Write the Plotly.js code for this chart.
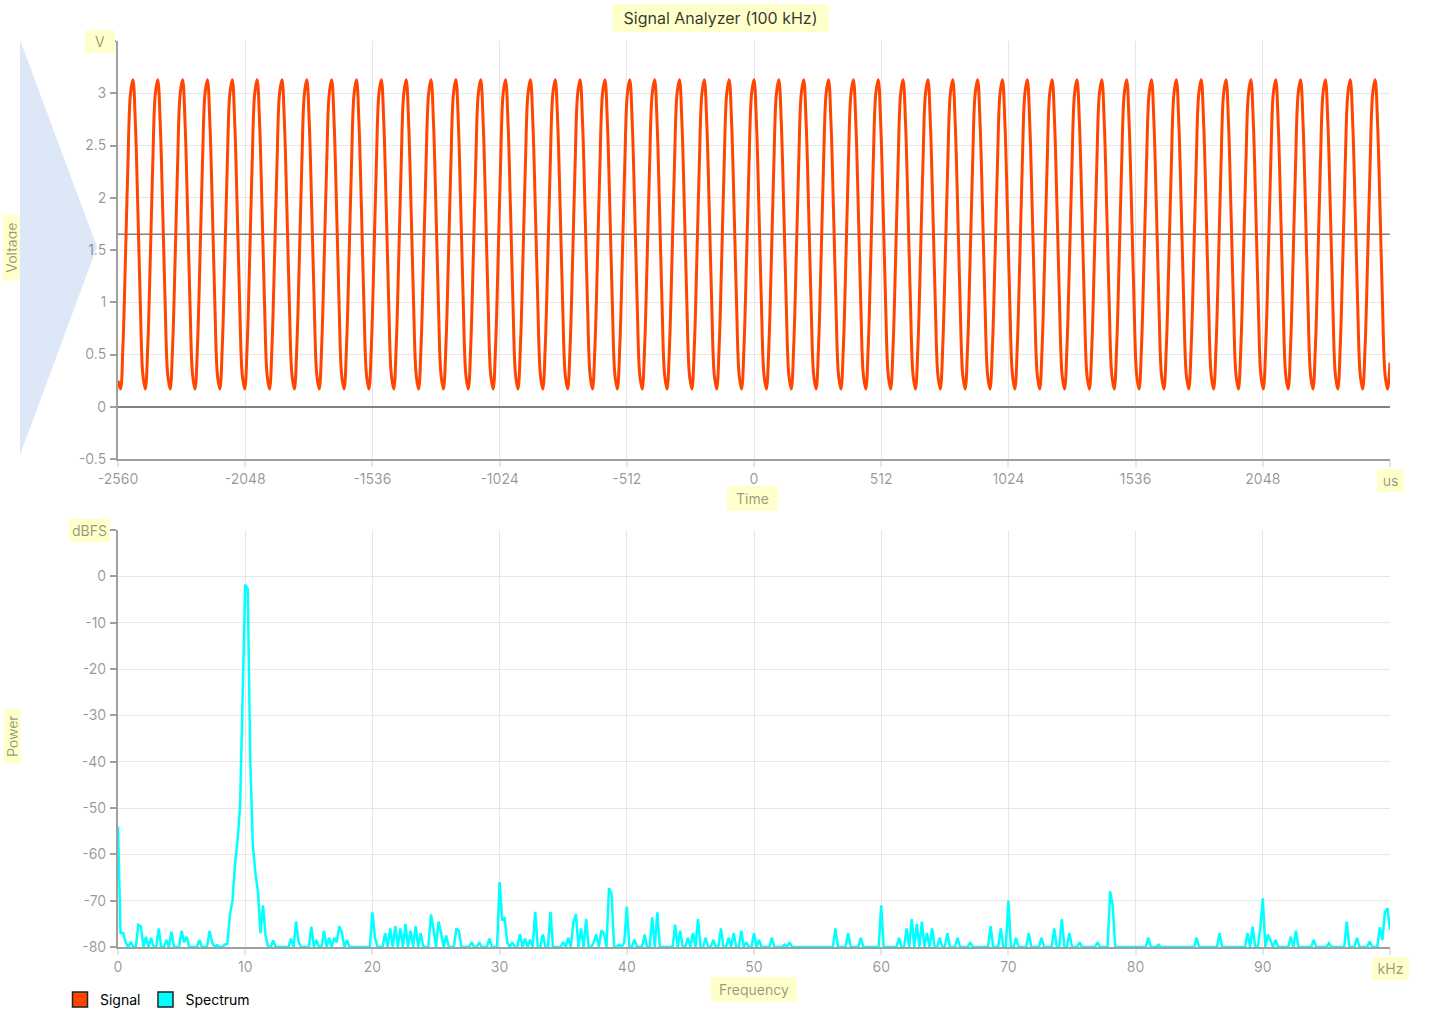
<!DOCTYPE html>
<html><head><meta charset="utf-8">
<script src="https://cdn.plot.ly/plotly-3.0.1.min.js"></script>
<style>html,body{margin:0;padding:0;background:#fff}#chart{width:1430px;height:1019px}</style>
</head><body><div id="chart"></div>
<script>
// ---------- DATA ----------
// Signal: voltage samples every 10 us starting at -2560 us
const TIME_START_US = -2560;
const TIME_STEP_US = 10;
const signalVolts = [
0.25,0.17,0.59,1.42,2.33,2.99,3.13,2.71,1.88,0.97,
0.31,0.17,0.59,1.42,2.33,2.99,3.13,2.71,1.88,0.97,
0.31,0.17,0.59,1.42,2.33,2.99,3.13,2.71,1.88,0.97,
0.31,0.17,0.59,1.42,2.33,2.99,3.13,2.71,1.88,0.97,
0.31,0.17,0.59,1.42,2.33,2.99,3.13,2.71,1.88,0.97,
0.31,0.17,0.59,1.42,2.33,2.99,3.13,2.71,1.88,0.97,
0.31,0.17,0.59,1.42,2.33,2.99,3.13,2.71,1.88,0.97,
0.31,0.17,0.59,1.42,2.33,2.99,3.13,2.71,1.88,0.97,
0.31,0.17,0.59,1.42,2.33,2.99,3.13,2.71,1.88,0.97,
0.31,0.17,0.59,1.42,2.33,2.99,3.13,2.71,1.88,0.97,
0.31,0.17,0.59,1.42,2.33,2.99,3.13,2.71,1.88,0.97,
0.31,0.17,0.59,1.42,2.33,2.99,3.13,2.71,1.88,0.97,
0.31,0.17,0.59,1.42,2.33,2.99,3.13,2.71,1.88,0.97,
0.31,0.17,0.59,1.42,2.33,2.99,3.13,2.71,1.88,0.97,
0.31,0.17,0.59,1.42,2.33,2.99,3.13,2.71,1.88,0.97,
0.31,0.17,0.59,1.42,2.33,2.99,3.13,2.71,1.88,0.97,
0.31,0.17,0.59,1.42,2.33,2.99,3.13,2.71,1.88,0.97,
0.31,0.17,0.59,1.42,2.33,2.99,3.13,2.71,1.88,0.97,
0.31,0.17,0.59,1.42,2.33,2.99,3.13,2.71,1.88,0.97,
0.31,0.17,0.59,1.42,2.33,2.99,3.13,2.71,1.88,0.97,
0.31,0.17,0.59,1.42,2.33,2.99,3.13,2.71,1.88,0.97,
0.31,0.17,0.59,1.42,2.33,2.99,3.13,2.71,1.88,0.97,
0.31,0.17,0.59,1.42,2.33,2.99,3.13,2.71,1.88,0.97,
0.31,0.17,0.59,1.42,2.33,2.99,3.13,2.71,1.88,0.97,
0.31,0.17,0.59,1.42,2.33,2.99,3.13,2.71,1.88,0.97,
0.31,0.17,0.59,1.42,2.33,2.99,3.13,2.71,1.88,0.97,
0.31,0.17,0.59,1.42,2.33,2.99,3.13,2.71,1.88,0.97,
0.31,0.17,0.59,1.42,2.33,2.99,3.13,2.71,1.88,0.97,
0.31,0.17,0.59,1.42,2.33,2.99,3.13,2.71,1.88,0.97,
0.31,0.17,0.59,1.42,2.33,2.99,3.13,2.71,1.88,0.97,
0.31,0.17,0.59,1.42,2.33,2.99,3.13,2.71,1.88,0.97,
0.31,0.17,0.59,1.42,2.33,2.99,3.13,2.71,1.88,0.97,
0.31,0.17,0.59,1.42,2.33,2.99,3.13,2.71,1.88,0.97,
0.31,0.17,0.59,1.42,2.33,2.99,3.13,2.71,1.88,0.97,
0.31,0.17,0.59,1.42,2.33,2.99,3.13,2.71,1.88,0.97,
0.31,0.17,0.59,1.42,2.33,2.99,3.13,2.71,1.88,0.97,
0.31,0.17,0.59,1.42,2.33,2.99,3.13,2.71,1.88,0.97,
0.31,0.17,0.59,1.42,2.33,2.99,3.13,2.71,1.88,0.97,
0.31,0.17,0.59,1.42,2.33,2.99,3.13,2.71,1.88,0.97,
0.31,0.17,0.59,1.42,2.33,2.99,3.13,2.71,1.88,0.97,
0.31,0.17,0.59,1.42,2.33,2.99,3.13,2.71,1.88,0.97,
0.31,0.17,0.59,1.42,2.33,2.99,3.13,2.71,1.88,0.97,
0.31,0.17,0.59,1.42,2.33,2.99,3.13,2.71,1.88,0.97,
0.31,0.17,0.59,1.42,2.33,2.99,3.13,2.71,1.88,0.97,
0.31,0.17,0.59,1.42,2.33,2.99,3.13,2.71,1.88,0.97,
0.31,0.17,0.59,1.42,2.33,2.99,3.13,2.71,1.88,0.97,
0.31,0.17,0.59,1.42,2.33,2.99,3.13,2.71,1.88,0.97,
0.31,0.17,0.59,1.42,2.33,2.99,3.13,2.71,1.88,0.97,
0.31,0.17,0.59,1.42,2.33,2.99,3.13,2.71,1.88,0.97,
0.31,0.17,0.59,1.42,2.33,2.99,3.13,2.71,1.88,0.97,
0.31,0.17,0.59,1.42,2.33,2.99,3.13,2.71,1.88,0.97,
0.31,0.17,0.42
];
const MID_VOLTAGE = 1.65;

// Spectrum: power in dBFS, one bin every 0.2 kHz from 0 kHz
const FREQ_START_KHZ = 0;
const FREQ_STEP_KHZ = 0.2;
const spectrumDbfs = [
-54,-77,-77,-79,-80,-78.9,-80,-80,-75.2,-75.6,
-80,-77.8,-80,-78,-80,-80,-76,-80,-80,-78.5,
-80,-76.7,-80,-80,-80,-76.5,-79,-77.8,-80,-80,
-80,-80,-78.5,-80,-80,-80,-76.5,-79,-80,-79.6,
-80,-80,-79.5,-79.3,-73,-70,-62,-57,-49.5,-25,
-1.8,-2.8,-40,-58,-64,-68,-77,-71,-77.5,-80,
-80,-78.6,-80,-80,-80,-80,-80,-80,-78.2,-80,
-74.5,-79,-80,-80,-80,-80,-75.6,-80,-78.5,-80,
-80,-76.5,-80,-78,-80,-78,-79,-75.5,-77,-80,
-78.5,-80,-80,-80,-80,-80,-80,-80,-80,-80,
-72.5,-78,-80,-80,-80,-77,-80,-76,-80,-75.5,
-80,-76,-80,-75,-80,-76.5,-80,-75.5,-80,-77,
-80,-80,-80,-73,-76,-80,-74.5,-77,-80,-77.5,
-80,-80,-80,-76,-76.5,-80,-80,-80,-80,-79,
-80,-80,-79,-80,-80,-80,-78.2,-80,-80,-80,
-66,-74,-73.8,-79,-80,-79,-80,-80,-77.2,-80,
-78.2,-80,-78.4,-80,-72.4,-80,-80,-77.3,-80,-80,
-72.4,-80,-80,-80,-80,-78.9,-80,-78,-80,-74.7,
-72.9,-80,-76,-80,-73.9,-80,-80,-79,-77.3,-80,
-76.4,-77,-80,-67.3,-68.5,-80,-80,-79.5,-80,-79,
-71.3,-80,-80,-78.4,-80,-80,-80,-77.3,-80,-80,
-73.6,-80,-72.5,-80,-80,-80,-80,-80,-80,-75.2,
-80,-76.5,-80,-80,-78,-80,-77,-80,-74,-80,
-80,-78,-80,-80,-78.5,-80,-80,-76,-80,-80,
-78,-80,-77,-80,-80,-76.5,-80,-79,-80,-80,
-77,-80,-78.5,-80,-80,-80,-80,-78,-80,-80,
-80,-80,-79.5,-80,-79,-80,-80,-80,-80,-80,
-80,-80,-80,-80,-80,-80,-80,-80,-80,-80,
-80,-80,-76,-80,-80,-80,-80,-77,-80,-80,
-80,-80,-78,-80,-80,-80,-80,-80,-80,-80,
-71,-80,-80,-80,-80,-80,-80,-78,-80,-80,
-76,-80,-74,-80,-75,-80,-74.5,-80,-77,-80,
-76,-80,-80,-78,-80,-80,-77,-80,-80,-80,
-78,-80,-80,-80,-80,-79,-80,-80,-80,-80,
-80,-80,-80,-75.5,-80,-80,-80,-76,-80,-80,
-70,-80,-80,-78,-80,-80,-80,-80,-77,-80,
-80,-80,-80,-78,-80,-80,-80,-80,-76,-80,
-80,-74,-80,-80,-77,-80,-80,-80,-79,-80,
-80,-80,-80,-80,-80,-79,-80,-80,-80,-80,
-68,-71,-80,-80,-80,-80,-80,-80,-80,-80,
-80,-80,-80,-80,-80,-78,-80,-80,-80,-79.5,
-80,-80,-80,-80,-80,-80,-80,-80,-80,-80,
-80,-80,-80,-80,-78,-80,-80,-80,-80,-80,
-80,-80,-80,-77,-80,-80,-80,-80,-80,-80,
-80,-80,-80,-80,-77,-80,-75.6,-80,-80,-76,
-69.5,-80,-77.3,-78.5,-80,-78.5,-80,-80,-80,-80,
-80,-77.8,-80,-76.5,-80,-80,-80,-80,-80,-80,
-78.5,-80,-80,-80,-80,-80,-79.2,-80,-80,-80,
-80,-80,-80,-74.5,-80,-80,-80,-78,-80,-80,
-80,-80,-78.8,-80,-80,-80,-75.7,-78.5,-72.5,-71.6,
-76.3
];

// Tick values and labels
const timeTickVals = [-2560,-2048,-1536,-1024,-512,0,512,1024,1536,2048,2560];
const timeTickText = ['-2560','-2048','-1536','-1024','-512','0','512','1024','1536','2048',''];
const voltTickVals = [-0.5,0,0.5,1,1.5,2,2.5,3,3.5];
const voltTickText = ['-0.5','0','0.5','1','1.5','2','2.5','3',''];
const freqTickVals = [0,10,20,30,40,50,60,70,80,90,100];
const freqTickText = ['0','10','20','30','40','50','60','70','80','90',''];
const powerTickVals = [-80,-70,-60,-50,-40,-30,-20,-10,0,10];
const powerTickText = ['-80','-70','-60','-50','-40','-30','-20','-10','0',''];

const TITLE = 'Signal Analyzer (100 kHz)';
const UNIT_TIME = 'us', UNIT_VOLT = 'V', UNIT_FREQ = 'kHz', UNIT_POWER = 'dBFS';

// ---------- LAYOUT ----------
const W = 1430, H = 1019, ML = 118, MR = 40, MT = 41, MB = 72;
const PW = W - ML - MR, PH = H - MT - MB;
const px = x => (x - ML) / PW;
const py = y => (H - MB - y) / PH;

const FONT = 'Inter, "Noto Sans", Roboto, sans-serif';
const TICK_COLOR = 'rgba(0,0,0,0.42)';
const GRID = '#e6e6e6';
const AXLINE = '#a0a0a0';
const LABEL_BG = '#ffffcc';
const SIGNAL_COLOR = '#ff4500';
const SPECTRUM_COLOR = '#00ffff';

function axisCommon(extra) {
  return Object.assign({
    showgrid: true, gridcolor: GRID, gridwidth: 1,
    showline: true, linecolor: AXLINE, linewidth: 2,
    ticks: 'outside', ticklen: 6, tickwidth: 1.5,
    tickfont: {family: FONT, size: 14, color: TICK_COLOR},
    zeroline: false, tickmode: 'array', automargin: false, fixedrange: true
  }, extra);
}

const traces = [
  {
    type: 'scatter', mode: 'lines', name: 'Signal', legendgroup: 'signal', showlegend: false,
    x0: TIME_START_US, dx: TIME_STEP_US, y: signalVolts, xaxis: 'x', yaxis: 'y',
    line: {color: SIGNAL_COLOR, width: 3, shape: 'spline', smoothing: 1}
  },
  {
    type: 'scatter', mode: 'lines', name: 'Spectrum', legendgroup: 'spectrum', showlegend: false,
    x0: FREQ_START_KHZ, dx: FREQ_STEP_KHZ, y: spectrumDbfs, xaxis: 'x2', yaxis: 'y2',
    line: {color: SPECTRUM_COLOR, width: 2.5}
  },
  {
    type: 'scatter', mode: 'markers', name: 'Signal', legendgroup: 'signal', showlegend: true,
    x: [null], y: [null], xaxis: 'x', yaxis: 'y', hoverinfo: 'skip',
    marker: {symbol: 'square', size: 15, color: SIGNAL_COLOR, line: {color: '#222', width: 1.5}}
  },
  {
    type: 'scatter', mode: 'markers', name: 'Spectrum', legendgroup: 'spectrum', showlegend: true,
    x: [null], y: [null], xaxis: 'x2', yaxis: 'y2', hoverinfo: 'skip',
    marker: {symbol: 'square', size: 15, color: SPECTRUM_COLOR, line: {color: '#222', width: 1.5}}
  }
];

function label(text, opts) {
  return Object.assign({
    text: text, showarrow: false, bgcolor: LABEL_BG, borderpad: 3, borderwidth: 0,
    font: {family: FONT, size: 14, color: TICK_COLOR},
    xanchor: 'center', yanchor: 'middle'
  }, opts);
}

const layout = {
  width: W, height: H,
  margin: {l: ML, r: MR, t: MT, b: MB, pad: 0, autoexpand: false},
  paper_bgcolor: '#fff', plot_bgcolor: '#fff',
  font: {family: FONT, size: 14, color: '#000'},
  showlegend: true,
  legend: {
    orientation: 'h', x: px(60), xanchor: 'left', y: py(984), yanchor: 'top',
    font: {family: FONT, size: 14, color: '#000'}, bgcolor: 'rgba(0,0,0,0)', borderwidth: 0
  },
  xaxis: axisCommon({domain: [0, 1], anchor: 'y', range: [-2560, 2560],
    tickvals: timeTickVals, ticktext: timeTickText, tickcolor: GRID}),
  yaxis: axisCommon({domain: [py(459), 1], anchor: 'x', range: [-0.5, 3.5],
    tickvals: voltTickVals, ticktext: voltTickText, tickcolor: AXLINE, ticklabelstandoff: 1,
    zeroline: true, zerolinecolor: '#808080', zerolinewidth: 2}),
  xaxis2: axisCommon({domain: [0, 1], anchor: 'y2', range: [0, 100],
    tickvals: freqTickVals, ticktext: freqTickText, tickcolor: GRID}),
  yaxis2: axisCommon({domain: [0, py(530)], anchor: 'x2', range: [-80, 10],
    tickvals: powerTickVals, ticktext: powerTickText, tickcolor: AXLINE, ticklabelstandoff: 1}),
  shapes: [
    {type: 'path', xref: 'paper', yref: 'paper', layer: 'below',
     path: `M ${px(20)},${py(40)} L ${px(97)},${py(247)} L ${px(20)},${py(455)} Z`,
     fillcolor: '#dce7f7', line: {width: 0}},
    {type: 'line', xref: 'x', yref: 'y', x0: -2560, x1: 2560, y0: MID_VOLTAGE, y1: MID_VOLTAGE,
     layer: 'between', line: {color: '#808080', width: 1.5}}
  ],
  annotations: [
    label(TITLE, {xref: 'paper', yref: 'paper', x: px(720), y: py(18), width: 209, borderpad: 4,
      font: {family: FONT, size: 16, color: 'rgba(0,0,0,0.8)'}}),
    label(UNIT_VOLT, {xref: 'paper', yref: 'y', x: px(100), y: 3.5, width: 24}),
    label(UNIT_TIME, {xref: 'x', yref: 'paper', x: 2560, y: py(480), width: 21}),
    label('Time', {xref: 'paper', yref: 'paper', x: px(752.5), y: py(499), width: 43, borderpad: 4}),
    label(UNIT_POWER, {xref: 'paper', yref: 'y2', x: px(89), y: 10, width: 35}),
    label(UNIT_FREQ, {xref: 'x2', yref: 'paper', x: 100, y: py(969), width: 31}),
    label('Frequency', {xref: 'paper', yref: 'paper', x: px(754), y: py(989), width: 78, borderpad: 4}),
    label('Voltage', {xref: 'paper', yref: 'paper', x: px(11.7), y: py(248), textangle: -90, width: 60, height: 11}),
    label('Power', {xref: 'paper', yref: 'paper', x: px(11.7), y: py(736), textangle: -90, width: 49, height: 11})
  ]
};

Plotly.newPlot('chart', traces, layout, {displayModeBar: false, responsive: false});
</script></body></html>
